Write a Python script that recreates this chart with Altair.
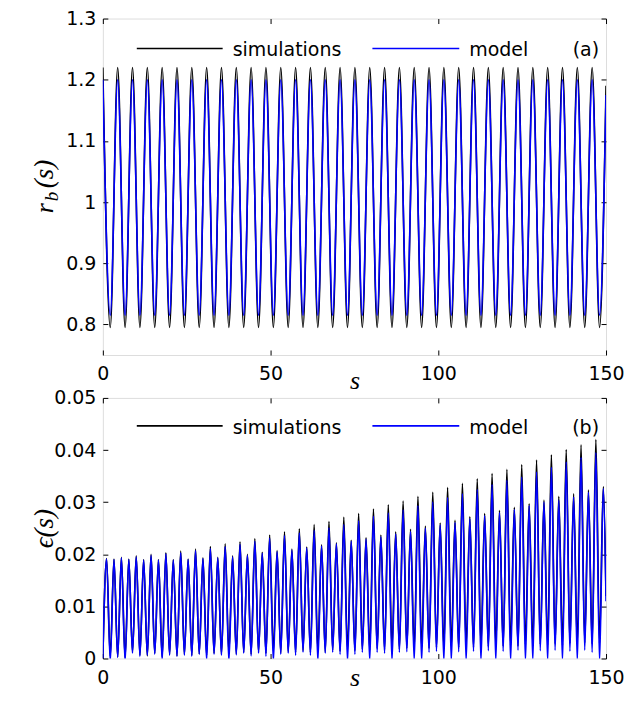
import altair as alt
import pandas as pd

# ---------------- data ----------------
# s positions of the extrema (quarter periods of r_b), plus the right edge
s_quarter = [
    0.00, 1.11, 2.21, 3.32, 4.42, 5.53, 6.63, 7.74, 8.84, 9.95,
    11.05, 12.16, 13.26, 14.37, 15.47, 16.58, 17.68, 18.79, 19.89, 21.00,
    22.10, 23.21, 24.31, 25.42, 26.52, 27.63, 28.73, 29.84, 30.94, 32.05,
    33.15, 34.26, 35.36, 36.47, 37.57, 38.68, 39.78, 40.89, 41.99, 43.10,
    44.20, 45.31, 46.41, 47.52, 48.62, 49.73, 50.83, 51.94, 53.04, 54.15,
    55.25, 56.36, 57.46, 58.57, 59.67, 60.78, 61.88, 62.99, 64.09, 65.20,
    66.30, 67.41, 68.51, 69.62, 70.72, 71.83, 72.93, 74.04, 75.14, 76.25,
    77.35, 78.46, 79.56, 80.67, 81.77, 82.88, 83.98, 85.09, 86.19, 87.30,
    88.40, 89.51, 90.61, 91.72, 92.82, 93.93, 95.03, 96.14, 97.24, 98.35,
    99.45, 100.56, 101.66, 102.77, 103.87, 104.98, 106.08, 107.19, 108.29, 109.40,
    110.50, 111.61, 112.71, 113.82, 114.92, 116.03, 117.13, 118.24, 119.34, 120.45,
    121.55, 122.66, 123.76, 124.87, 125.97, 127.08, 128.18, 129.29, 130.39, 131.50,
    132.60, 133.71, 134.81, 135.92, 137.02, 138.13, 139.23, 140.34, 141.44, 142.55,
    143.65, 144.76, 145.86, 146.97, 148.07, 149.18,
]
s_edge = 150.0

# panel (a): r_b(s) at its peaks/troughs (even quarters) and at the edge
sim_r = [
    1.22, 0.795, 1.22, 0.795, 1.22, 0.795, 1.22, 0.795, 1.22, 0.795,
    1.22, 0.795, 1.22, 0.795, 1.22, 0.795, 1.22, 0.795, 1.22, 0.795,
    1.22, 0.795, 1.22, 0.795, 1.22, 0.795, 1.22, 0.795, 1.22, 0.795,
    1.22, 0.795, 1.22, 0.795, 1.22, 0.795, 1.22, 0.795, 1.22, 0.795,
    1.22, 0.795, 1.22, 0.795, 1.22, 0.795, 1.22, 0.795, 1.22, 0.795,
    1.22, 0.795, 1.22, 0.795, 1.22, 0.795, 1.22, 0.795, 1.22, 0.795,
    1.22, 0.795, 1.22, 0.795, 1.22, 0.795, 1.22, 0.795, 1.19,
]
mod_r = [
    1.20, 0.815, 1.20, 0.815, 1.20, 0.815, 1.20, 0.815, 1.20, 0.815,
    1.20, 0.815, 1.20, 0.815, 1.20, 0.815, 1.20, 0.815, 1.20, 0.815,
    1.20, 0.815, 1.20, 0.815, 1.20, 0.815, 1.20, 0.815, 1.20, 0.815,
    1.20, 0.815, 1.20, 0.815, 1.20, 0.815, 1.20, 0.815, 1.20, 0.815,
    1.20, 0.815, 1.20, 0.815, 1.20, 0.815, 1.20, 0.815, 1.20, 0.815,
    1.20, 0.815, 1.20, 0.815, 1.20, 0.815, 1.20, 0.815, 1.20, 0.815,
    1.20, 0.815, 1.20, 0.815, 1.20, 0.815, 1.20, 0.815, 1.175,
]

# panel (b): eps(s) troughs (even quarters) and peaks (odd quarters)
sim_eps_trough = [
    0.0,
    0.0004, 0.0003, 0.0002, 0.0012, 0.0006, 0.0005, 0.0010, 0.0003, 0.0008, 0.0005,
    0.0008, 0.0006, 0.0009, 0.0006, 0.0010, 0.0008, 0.0011, 0.0009, 0.0012, 0.0008,
    0.0012, 0.0010, 0.0014, 0.0011, 0.0013, 0.0012, 0.0015, 0.0012, 0.0016, 0.0013,
    0.0016, 0.0014, 0.0017, 0.0015, 0.0018, 0.0016, 0.0019, 0.0017, 0.0020, 0.0018,
    0.0020, 0.0019, 0.0021, 0.0020, 0.0022, 0.0020, 0.0023, 0.0021, 0.0024, 0.0022,
    0.0024, 0.0023, 0.0025, 0.0024, 0.0026, 0.0024, 0.0027, 0.0025, 0.0027, 0.0026,
    0.0028, 0.0026, 0.0029, 0.0027, 0.0030, 0.0028, 0.0030,
]
sim_eps_peak = [
    0.0192, 0.0191, 0.0194, 0.0191, 0.0197, 0.0190, 0.0200, 0.0190, 0.0203, 0.0190,
    0.0206, 0.0191, 0.0210, 0.0193, 0.0215, 0.0194, 0.0220, 0.0197,
    0.0224, 0.0200, 0.0230, 0.0204, 0.0237, 0.0207, 0.0243, 0.0210, 0.0249, 0.0214,
    0.0257, 0.0218, 0.0263, 0.0222, 0.0271, 0.0227, 0.0278,
    0.0232, 0.0287, 0.0237, 0.0295, 0.0243, 0.0302, 0.0248, 0.0311, 0.0254, 0.0319,
    0.0260, 0.0328, 0.0265, 0.0336, 0.0272, 0.0345, 0.0278, 0.0355,
    0.0284, 0.0363, 0.0290, 0.0372, 0.0297, 0.0381, 0.0304, 0.0391, 0.0311, 0.0401,
    0.0316, 0.0410, 0.0323, 0.0420, 0.0330,
]
mod_eps_trough = [
    0.0,
    -0.0006, 0.0002, -0.0006, 0.0010, 0.0004, 0.0006, 0.0008, -0.0004, 0.0006, 0.0004,
    0.0006, 0.0004, 0.0008, -0.0004, 0.0008, 0.0006, -0.0006, 0.0007, 0.0010, 0.0005,
    0.0010, 0.0004, -0.0006, 0.0008, 0.0010, 0.0006, 0.0012, 0.0006, -0.0006, 0.0010,
    0.0012, 0.0008, -0.0006, 0.0008, 0.0012, -0.0005, 0.0012, 0.0010, -0.0006, 0.0012,
    0.0013, -0.0005, -0.0006, 0.0012, 0.0014, -0.0006, -0.0006, 0.0013, -0.0006, 0.0014,
    -0.0006, 0.0015, -0.0006, 0.0014, -0.0006, 0.0016, -0.0006, -0.0006, 0.0015, -0.0006,
    0.0016, -0.0006, 0.0014, -0.0006, 0.0016, 0.0012, -0.0006,
]
mod_eps_peak = [
    0.0191, 0.0190, 0.0193, 0.0190, 0.0195, 0.0189, 0.0198, 0.0189, 0.0201, 0.0189,
    0.0203, 0.0190, 0.0207, 0.0192, 0.0211, 0.0193, 0.0215, 0.0195,
    0.0219, 0.0198, 0.0225, 0.0202, 0.0231, 0.0205, 0.0236, 0.0208, 0.0241, 0.0212,
    0.0246, 0.0216, 0.0251, 0.0220, 0.0257, 0.0225, 0.0264,
    0.0229, 0.0273, 0.0234, 0.0279, 0.0239, 0.0285, 0.0244, 0.0293, 0.0250, 0.0300,
    0.0256, 0.0309, 0.0261, 0.0316, 0.0268, 0.0324, 0.0274, 0.0334,
    0.0280, 0.0342, 0.0286, 0.0348, 0.0293, 0.0358, 0.0300, 0.0367, 0.0304, 0.0377,
    0.0310, 0.0386, 0.0319, 0.0395, 0.0326,
]
sim_eps_edge = 0.012
mod_eps_edge = 0.011

legend_labels = ["simulations", "model"]
panel_tags = ["(a)", "(b)"]
x_ticks = [0, 50, 100, 150]
r_ticks = [0.8, 0.9, 1.0, 1.1, 1.2, 1.3]
eps_ticks = [0, 0.01, 0.02, 0.03, 0.04, 0.05]

# ---------------- tables ----------------
s_top = s_quarter[0::2] + [s_edge]
df_r_sim = pd.DataFrame({"s": s_top, "v": sim_r})
df_r_mod = pd.DataFrame({"s": s_top, "v": mod_r})


def interleave(troughs, peaks, edge):
    vals = []
    for k in range(len(s_quarter)):
        vals.append(troughs[k // 2] if k % 2 == 0 else peaks[k // 2])
    return vals + [edge]


s_all = s_quarter + [s_edge]
df_e_sim = pd.DataFrame({"s": s_all, "v": interleave(sim_eps_trough, sim_eps_peak, sim_eps_edge)})
df_e_mod = pd.DataFrame({"s": s_all, "v": interleave(mod_eps_trough, mod_eps_peak, mod_eps_edge)})

# ---------------- styling ----------------
SANS = "DejaVu Sans"
SERIF = "Liberation Serif"
FS = 19
W = 504
H_A = 337
H_B = 261
LW = 1.6


def tick_axis(orient, labels=True, **kw):
    base = dict(orient=orient, offset=-5, tickSize=5, tickWidth=1, tickColor="black",
                domain=False, grid=False, labels=labels, labelFlush=False, labelOverlap=False,
                labelFont=SANS, labelFontSize=FS, labelColor="black")
    base.update(kw)
    return alt.Axis(**base)


def txt(s, **kw):
    return alt.Chart(pd.DataFrame({"t": [s]})).mark_text(**kw).encode(text="t:N")


def panel(df_sim, df_mod, ydom, yticks, yfmt, tag, ly, ty, title_y):
    xs = alt.Scale(domain=[0, 150], nice=False, zero=False)
    ys = alt.Scale(domain=ydom, nice=False, zero=False)
    bottom = tick_axis("bottom", values=x_ticks, labelPadding=10, title="s",
                       titleFont=SERIF, titleFontStyle="italic", titleFontWeight="normal",
                       titleFontSize=26, titleColor="black", titleY=title_y, titleBaseline="alphabetic")
    left = tick_axis("left", values=yticks, format=yfmt, labelPadding=7, title=None)
    top = tick_axis("top", labels=False, values=x_ticks, title=None)
    right = tick_axis("right", labels=False, values=yticks, title=None)

    sim = alt.Chart(df_sim).mark_line(color="black", strokeWidth=LW, interpolate="monotone", clip=True).encode(
        x=alt.X("s:Q", scale=xs, axis=bottom), y=alt.Y("v:Q", scale=ys, axis=left))
    mod = alt.Chart(df_mod).mark_line(color="#0000ff", strokeWidth=LW, interpolate="monotone", clip=True).encode(
        x=alt.X("s:Q", scale=xs, axis=None), y=alt.Y("v:Q", scale=ys, axis=None))
    mirror = alt.Chart(df_sim).mark_line(strokeOpacity=0).encode(
        x=alt.X("s:Q", scale=xs, axis=top), y=alt.Y("v:Q", scale=ys, axis=right))

    leg1 = alt.Chart(pd.DataFrame({"t": [legend_labels[0]]})).mark_rule(color="black", strokeWidth=LW).encode(
        x=alt.value(34), x2=alt.value(120), y=alt.value(ly))
    leg2 = alt.Chart(pd.DataFrame({"t": [legend_labels[1]]})).mark_rule(color="#0000ff", strokeWidth=LW).encode(
        x=alt.value(270), x2=alt.value(357), y=alt.value(ly))
    t1 = txt(legend_labels[0], align="left", baseline="alphabetic", font=SANS, fontSize=FS, color="black").encode(
        x=alt.value(130), y=alt.value(ty))
    t2 = txt(legend_labels[1], align="left", baseline="alphabetic", font=SANS, fontSize=FS, color="black").encode(
        x=alt.value(367), y=alt.value(ty))
    t3 = txt(tag, align="right", baseline="alphabetic", font=SANS, fontSize=FS, color="black").encode(
        x=alt.value(497), y=alt.value(ty))
    return [sim, mod, mirror, leg1, leg2, t1, t2, t3]


layers_a = panel(df_r_sim, df_r_mod, [0.75, 1.3], r_ticks, ".1~f", panel_tags[0], 30, 38, 39)
# y title r_b(s) built from pieces (rotated)
ya1 = txt("r", angle=270, align="left", baseline="alphabetic", font=SERIF, fontStyle="italic",
          fontSize=26, color="black").encode(x=alt.value(-50), y=alt.value(195))
ya2 = txt("b", angle=270, align="left", baseline="alphabetic", font=SERIF, fontStyle="italic",
          fontSize=19, color="black").encode(x=alt.value(-45), y=alt.value(183))
ya3 = txt("(s)", angle=270, align="left", baseline="alphabetic", font=SERIF, fontStyle="italic",
          fontSize=27, color="black").encode(x=alt.value(-50), y=alt.value(170))
top_panel = alt.layer(*layers_a, ya1, ya2, ya3).resolve_axis(x="independent", y="independent").properties(
    width=W, height=H_A)

layers_b = panel(df_e_sim, df_e_mod, [0, 0.05], eps_ticks, ".2~f", panel_tags[1], 28, 36, 32)
yb = txt("\u03f5(s)", angle=270, align="center", baseline="alphabetic", font=SERIF, fontStyle="italic",
         fontSize=27, color="black").encode(x=alt.value(-50), y=alt.value(131))
bottom_panel = alt.layer(*layers_b, yb).resolve_axis(x="independent", y="independent").properties(
    width=W, height=H_B)

chart = alt.vconcat(top_panel, bottom_panel, spacing=43, bounds="flush").properties(
    padding={"left": 22, "top": 0, "right": 0, "bottom": 0}
).configure_view(stroke="black", strokeWidth=1.5).configure(background="white")

chart.save("out.html", embed_options={"renderer": "svg", "actions": False})
